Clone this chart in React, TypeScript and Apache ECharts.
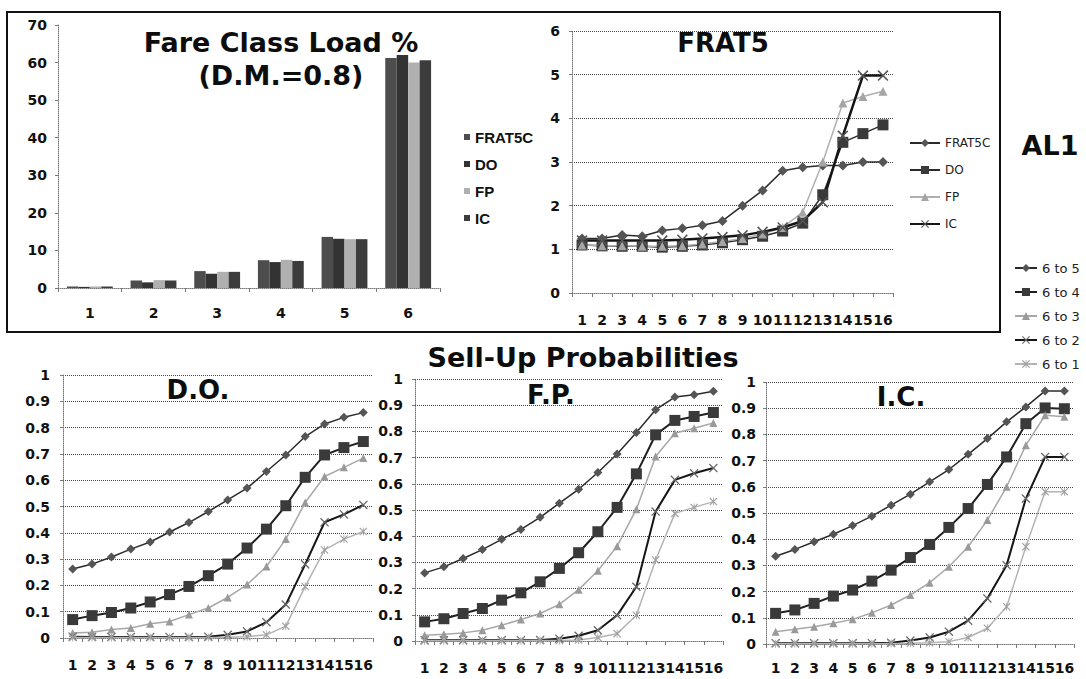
import { useEffect, useRef } from 'react';
import * as echarts from 'echarts';

// Fare class load (%) by fare class, one array per forecaster
const fareClasses = ['1', '2', '3', '4', '5', '6'];
const loadNames = ['FRAT5C', 'DO', 'FP', 'IC'];
const loadFRAT5C = [0.4, 2.0, 4.5, 7.4, 13.6, 61.2];
const loadDO = [0.3, 1.5, 3.8, 6.9, 13.1, 62.0];
const loadFP = [0.4, 2.1, 4.3, 7.5, 13.0, 60.0];
const loadIC = [0.4, 2.0, 4.3, 7.2, 13.0, 60.6];

// FRAT5 curves over the 16 time frames
const timeFrames = ['1', '2', '3', '4', '5', '6', '7', '8', '9', '10', '11', '12', '13', '14', '15', '16'];
const frat5FRAT5C = [1.25, 1.25, 1.33, 1.3, 1.43, 1.48, 1.55, 1.65, 2.0, 2.35, 2.8, 2.88, 2.92, 2.92, 3.0, 3.0];
const frat5DO = [1.1, 1.08, 1.07, 1.07, 1.05, 1.07, 1.1, 1.15, 1.22, 1.3, 1.42, 1.6, 2.25, 3.45, 3.65, 3.85];
const frat5FP = [1.1, 1.08, 1.08, 1.07, 1.07, 1.08, 1.12, 1.18, 1.25, 1.35, 1.5, 1.85, 3.0, 4.35, 4.5, 4.62];
const frat5IC = [1.2, 1.2, 1.2, 1.2, 1.2, 1.22, 1.25, 1.28, 1.32, 1.4, 1.5, 1.65, 2.08, 3.6, 4.98, 4.98];

// Sell-up probabilities; rows follow sellUpNames
const sellUpNames = ['6 to 5', '6 to 4', '6 to 3', '6 to 2', '6 to 1'];
const sellUpDO = [
  [0.262, 0.281, 0.308, 0.338, 0.365, 0.403, 0.439, 0.481, 0.525, 0.57, 0.633, 0.696, 0.766, 0.814, 0.839, 0.857],
  [0.07, 0.085, 0.097, 0.114, 0.137, 0.165, 0.196, 0.237, 0.281, 0.342, 0.414, 0.503, 0.611, 0.696, 0.724, 0.747],
  [0.019, 0.022, 0.032, 0.038, 0.054, 0.063, 0.089, 0.114, 0.154, 0.203, 0.272, 0.376, 0.515, 0.614, 0.649, 0.684],
  [0.005, 0.004, 0.004, 0.004, 0.004, 0.004, 0.004, 0.005, 0.012, 0.025, 0.06, 0.127, 0.28, 0.44, 0.47, 0.506],
  [0.002, 0.002, 0.002, 0.002, 0.002, 0.002, 0.002, 0.002, 0.003, 0.005, 0.012, 0.045, 0.196, 0.335, 0.376, 0.405],
];
const sellUpFP = [
  [0.26, 0.283, 0.315, 0.349, 0.388, 0.426, 0.472, 0.526, 0.579, 0.643, 0.714, 0.796, 0.883, 0.931, 0.94, 0.953],
  [0.073, 0.085, 0.105, 0.124, 0.156, 0.184, 0.226, 0.277, 0.337, 0.417, 0.51, 0.638, 0.787, 0.842, 0.857, 0.872],
  [0.022, 0.026, 0.031, 0.041, 0.06, 0.082, 0.105, 0.14, 0.196, 0.268, 0.362, 0.503, 0.704, 0.793, 0.812, 0.832],
  [0.003, 0.003, 0.003, 0.003, 0.003, 0.003, 0.004, 0.009, 0.02, 0.041, 0.098, 0.207, 0.494, 0.615, 0.64, 0.66],
  [0.001, 0.001, 0.001, 0.001, 0.001, 0.001, 0.002, 0.002, 0.004, 0.013, 0.028, 0.098, 0.309, 0.487, 0.51, 0.532],
];
const sellUpIC = [
  [0.335, 0.361, 0.39, 0.419, 0.452, 0.488, 0.53, 0.572, 0.619, 0.666, 0.724, 0.784, 0.848, 0.905, 0.966, 0.966],
  [0.117, 0.13, 0.155, 0.183, 0.206, 0.24, 0.282, 0.33, 0.38, 0.445, 0.517, 0.609, 0.714, 0.841, 0.901, 0.898],
  [0.047, 0.056, 0.066, 0.079, 0.094, 0.119, 0.149, 0.187, 0.234, 0.295, 0.371, 0.473, 0.6, 0.759, 0.873, 0.867],
  [0.003, 0.003, 0.003, 0.003, 0.003, 0.003, 0.005, 0.013, 0.025, 0.047, 0.089, 0.174, 0.301, 0.555, 0.714, 0.714],
  [0.001, 0.001, 0.001, 0.001, 0.001, 0.001, 0.002, 0.003, 0.005, 0.009, 0.025, 0.06, 0.142, 0.371, 0.581, 0.581],
];

// Marker shapes: an "x" cross and an asterisk-like star
const X_MARK = 'path://M0,1L1,0L5,4L9,0L10,1L6,5L10,9L9,10L5,6L1,10L0,9L4,5Z';
const STAR_MARK =
  'path://M0,1L1,0L4.5,3.5L4.5,0L5.5,0L5.5,3.5L9,0L10,1L6,5L10,9L9,10L5.5,6.5L5.5,10L4.5,10L4.5,6.5L1,10L0,9L4,5Z';

type Look = { symbol: string; size: number; line: string; width: number; mark: string };

const sellUpLooks: Look[] = [
  { symbol: 'diamond', size: 9, line: '#2b2b2b', width: 1.5, mark: '#555555' },
  { symbol: 'rect', size: 11, line: '#1f1f1f', width: 2, mark: '#3a3a3a' },
  { symbol: 'triangle', size: 8, line: '#a8a8a8', width: 1.5, mark: '#9a9a9a' },
  { symbol: X_MARK, size: 9, line: '#151515', width: 2, mark: '#666666' },
  { symbol: STAR_MARK, size: 8, line: '#b4b4b4', width: 1.5, mark: '#a0a0a0' },
];

const frat5Looks: Look[] = [
  { symbol: 'diamond', size: 10, line: '#2b2b2b', width: 1.5, mark: '#555555' },
  { symbol: 'rect', size: 11, line: '#2b2b2b', width: 1.5, mark: '#3a3a3a' },
  { symbol: 'triangle', size: 9, line: '#b0b0b0', width: 1.5, mark: '#a5a5a5' },
  { symbol: X_MARK, size: 11, line: '#151515', width: 2.5, mark: '#555555' },
];

const barColors = ['#4d4d4d', '#333333', '#b0b0b0', '#3c3c3c'];

const FONT = 'DejaVu Sans';
const tickFont = { fontFamily: FONT, fontWeight: 'bold' as const, fontSize: 14, color: '#111' };
const axisGrey = '#7a7a7a';

function categoryAxis(gridIndex: number, data: string[], margin: number) {
  return {
    type: 'category' as const,
    gridIndex,
    data,
    boundaryGap: true,
    axisLine: { show: true, lineStyle: { color: axisGrey, type: 'dotted' as const, width: 1 } },
    axisTick: { show: true, length: 4, interval: 0, lineStyle: { color: axisGrey } },
    axisLabel: { ...tickFont, interval: 0, margin },
    splitLine: { show: false },
  };
}

function valueAxis(gridIndex: number, max: number, interval: number, margin: number, grid: boolean) {
  return {
    type: 'value' as const,
    gridIndex,
    min: 0,
    max,
    interval,
    axisLine: { show: true, lineStyle: { color: axisGrey, type: 'dotted' as const, width: 1 } },
    axisTick: { show: true, length: 3, lineStyle: { color: axisGrey } },
    axisLabel: {
      ...tickFont,
      margin,
      formatter: (v: number) => String(Math.round(v * 10) / 10),
    },
    splitLine: { show: grid, lineStyle: { color: '#444', type: 'dotted' as const, width: 1 } },
  };
}

function lineSeries(name: string, data: number[], look: Look, axisIndex: number) {
  return {
    type: 'line' as const,
    name,
    data,
    xAxisIndex: axisIndex,
    yAxisIndex: axisIndex,
    symbol: look.symbol,
    symbolSize: look.size,
    showAllSymbol: true,
    lineStyle: { color: look.line, width: look.width },
    itemStyle: { color: look.mark },
    emphasis: { disabled: true },
  };
}

function titleText(text: string, x: number, y: number, size: number, lineHeight?: number) {
  return {
    type: 'text' as const,
    x,
    y,
    style: {
      text,
      fill: '#0d0d0d',
      fontFamily: FONT,
      fontWeight: 'bold',
      fontSize: size,
      lineHeight: lineHeight ?? size,
      align: 'center',
      verticalAlign: 'middle',
    },
  };
}

function buildOption() {
  const loads = [loadFRAT5C, loadDO, loadFP, loadIC];
  const frat5 = [frat5FRAT5C, frat5DO, frat5FP, frat5IC];
  const sellUps = [sellUpDO, sellUpFP, sellUpIC];

  const series: any[] = [];
  loadNames.forEach((name, i) => {
    series.push({
      type: 'bar',
      name,
      data: loads[i],
      xAxisIndex: 0,
      yAxisIndex: 0,
      barGap: '0%',
      barCategoryGap: '28%',
      itemStyle: { color: barColors[i] },
      emphasis: { disabled: true },
    });
  });
  // FRAT5 line series carry a trailing space so their legend stays apart from the bar legend
  loadNames.forEach((name, i) => {
    series.push(lineSeries(name + ' ', frat5[i], frat5Looks[i], 1));
  });
  sellUps.forEach((rows, c) => {
    rows.forEach((row, i) => {
      series.push(lineSeries(sellUpNames[i], row, sellUpLooks[i], c + 2));
    });
  });

  return {
    animation: false,
    backgroundColor: '#ffffff',
    grid: [
      { left: 58, top: 25, width: 382, height: 263, outerBoundsMode: 'none' },
      { left: 572, top: 31, width: 321, height: 262, outerBoundsMode: 'none' },
      { left: 63, top: 375, width: 310, height: 263, outerBoundsMode: 'none' },
      { left: 415, top: 379, width: 308, height: 262, outerBoundsMode: 'none' },
      { left: 766, top: 382, width: 308, height: 262, outerBoundsMode: 'none' },
    ],
    xAxis: [
      categoryAxis(0, fareClasses, 18),
      categoryAxis(1, timeFrames, 20),
      categoryAxis(2, timeFrames, 20),
      categoryAxis(3, timeFrames, 20),
      categoryAxis(4, timeFrames, 17),
    ],
    yAxis: [
      valueAxis(0, 70, 10, 11, false),
      valueAxis(1, 6, 1, 12, true),
      valueAxis(2, 1, 0.1, 13, true),
      valueAxis(3, 1, 0.1, 12, true),
      valueAxis(4, 1, 0.1, 10, true),
    ],
    legend: [
      {
        data: loadNames,
        orient: 'vertical',
        left: 464,
        top: 129,
        padding: 0,
        icon: 'rect',
        itemWidth: 6,
        itemHeight: 6,
        itemGap: 11,
        selectedMode: false,
        textStyle: { fontFamily: 'Liberation Sans', fontWeight: 'bold', fontSize: 15, lineHeight: 16, color: '#111' },
      },
      {
        data: loadNames.map((n) => n + ' '),
        orient: 'vertical',
        left: 909,
        top: 136,
        padding: 0,
        itemWidth: 30,
        itemHeight: 10,
        itemGap: 13,
        selectedMode: false,
        formatter: (n: string) => n.trim(),
        textStyle: { fontFamily: FONT, fontSize: 12, lineHeight: 14, color: '#222' },
      },
      {
        data: sellUpNames,
        orient: 'vertical',
        left: 1014,
        top: 261,
        padding: 0,
        itemWidth: 22,
        itemHeight: 10,
        itemGap: 10,
        selectedMode: false,
        textStyle: { fontFamily: FONT, fontSize: 13, lineHeight: 14, color: '#222' },
      },
    ],
    graphic: [
      {
        type: 'rect',
        shape: { x: 7, y: 12, width: 993, height: 320 },
        style: { fill: 'none', stroke: '#111', lineWidth: 2 },
        silent: true,
      },
      titleText('Fare Class Load %\n(D.M.=0.8)', 281, 58.5, 27, 33),
      titleText('FRAT5', 723, 43, 26),
      titleText('AL1', 1050, 145, 27),
      titleText('Sell-Up Probabilities', 583, 357, 27),
      titleText('D.O.', 198, 390, 26),
      titleText('F.P.', 551, 395, 26),
      titleText('I.C.', 901, 397, 26),
    ],
    series,
  };
}

export default function App() {
  const ref = useRef<HTMLDivElement>(null);

  useEffect(() => {
    if (!ref.current) return;
    const chart = echarts.init(ref.current, undefined, { renderer: 'svg' });
    chart.setOption(buildOption() as any);
    return () => chart.dispose();
  }, []);

  return (
    <div
      ref={ref}
      style={{ position: 'absolute', left: 0, top: 0, width: 1086, height: 679, background: '#fff' }}
    />
  );
}
